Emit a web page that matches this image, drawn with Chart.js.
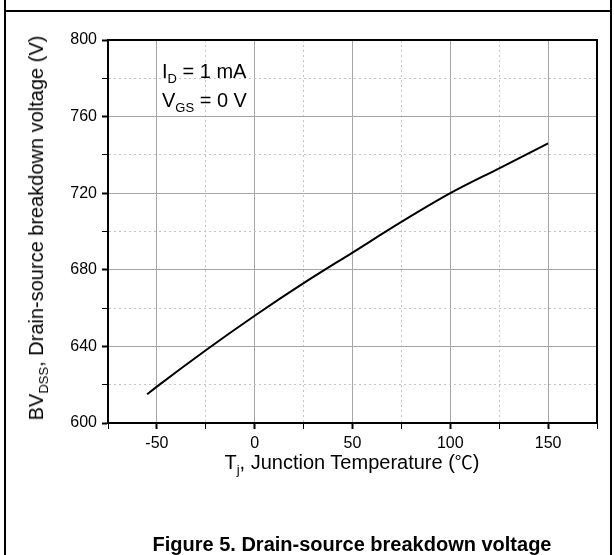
<!DOCTYPE html>
<html>
<head>
<meta charset="utf-8">
<script src="https://cdn.jsdelivr.net/npm/chart.js@4.4.1/dist/chart.umd.min.js"></script>
<style>
  html, body { margin: 0; padding: 0; background: #fff; }
  body { width: 614px; height: 555px; position: relative; overflow: hidden;
         font-family: "Liberation Sans", Arial, sans-serif; color: #000; }
  #chart { position: absolute; left: 0; top: 0; }
  .line { position: absolute; background: #000; }
  .label { position: absolute; white-space: nowrap; font-size: 20px; line-height: 1; }
  .sub { font-size: 13px; position: relative; top: 5px; }
  .cjk { font-family: "Noto Sans CJK SC", sans-serif; font-size: 18px; }
  #yTitle { left: 36px; top: 228px; transform: translate(-50%, -50%) rotate(-90deg); }
  #xTitle { left: 352px; top: 462px; transform: translate(-50%, -50%); }
  #note { left: 162px; top: 58px; line-height: 26px; }
  #caption { left: 352px; top: 544px; transform: translate(-50%, -50%); font-weight: bold; font-size: 20px; }
</style>
</head>
<body>
<canvas id="chart" width="614" height="555"></canvas>
<div class="line" style="left:4px; top:0; width:2px; height:555px;"></div>
<div class="line" style="left:4px; top:10px; width:608px; height:2px;"></div>
<div class="line" style="left:610px; top:0; width:2px; height:555px;"></div>
<div class="label" id="yTitle">BV<span class="sub">DSS</span>, Drain-source breakdown voltage (V)</div>
<div class="label" id="xTitle">T<span class="sub">j</span>, Junction Temperature (<span class="cjk">℃</span>)</div>
<div class="label" id="note">I<span class="sub">D</span> = 1 mA<br>V<span class="sub">GS</span> = 0 V</div>
<div class="label" id="caption">Figure 5. Drain-source breakdown voltage</div>
<script>
const temps = [-55, -50, -25, 0, 25, 50, 75, 100, 125, 150];
const volts = [615, 619, 638, 656, 673, 689, 705, 720, 733, 746];
const xTicks = [-50, 0, 50, 100, 150];
const yTicks = [600, 640, 680, 720, 760, 800];

const isMajor = (list, v) => list.includes(v);

// outer box round the plot area
const framePlugin = {
  id: "frame",
  afterDraw(chart) {
    const { ctx, chartArea: a } = chart;
    ctx.save();
    ctx.strokeStyle = "#000";
    ctx.lineWidth = 2;
    ctx.strokeRect(a.left, a.top, a.right - a.left, a.bottom - a.top);
    ctx.restore();
  }
};

function axisOptions(list, min, max, step, size) {
  return {
    type: "linear",
    min: min,
    max: max,
    afterFit: size,
    ticks: {
      stepSize: step,
      autoSkip: false,
      maxRotation: 0,
      padding: 5,
      color: "#000",
      font: { family: "Liberation Sans", size: 16 },
      callback: (v) => (isMajor(list, v) ? String(v) : "")
    },
    grid: {
      color: (c) => (c.tick && isMajor(list, c.tick.value) ? "#a6a6a6" : "#c4c4c4"),
      lineWidth: 1,
      tickLength: 6,
      tickColor: "#000",
      tickWidth: (c) => (c.tick && isMajor(list, c.tick.value) ? 2 : 1)
    },
    border: {
      color: "#000",
      width: 2,
      dash: (c) => (c.tick && !isMajor(list, c.tick.value) ? [2, 3] : [])
    }
  };
}

new Chart(document.getElementById("chart"), {
  type: "line",
  data: {
    datasets: [{
      data: temps.map((t, i) => ({ x: t, y: volts[i] })),
      borderColor: "#000",
      borderWidth: 2,
      pointRadius: 0,
      cubicInterpolationMode: "monotone",
      fill: false
    }]
  },
  options: {
    responsive: false,
    animation: false,
    events: [],
    layout: { padding: { left: 0, top: 40, right: 17, bottom: 92 } },
    plugins: { legend: { display: false }, tooltip: { enabled: false } },
    scales: {
      x: axisOptions(xTicks, -75, 175, 25, (s) => { s.height = 40; }),
      y: axisOptions(yTicks, 600, 800, 20, (s) => { s.width = 108; })
    }
  },
  plugins: [framePlugin]
});
</script>
</body>
</html>
